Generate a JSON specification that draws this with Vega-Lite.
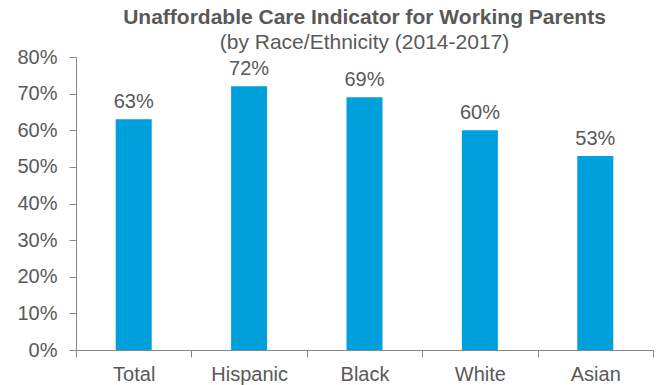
{
  "$schema": "https://vega.github.io/schema/vega-lite/v6.json",
  "width": 577,
  "height": 293,
  "autosize": "none",
  "padding": {"left": 76, "top": 57, "right": 4, "bottom": 35},
  "background": "white",
  "title": {
    "text": "Unaffordable Care Indicator for Working Parents",
    "subtitle": "(by Race/Ethnicity (2014-2017)",
    "anchor": "middle",
    "frame": "group",
    "font": "Liberation Sans",
    "fontSize": 21,
    "fontWeight": "bold",
    "color": "#595959",
    "subtitleFont": "Liberation Sans",
    "subtitleFontSize": 21,
    "subtitleColor": "#595959",
    "subtitlePadding": 4,
    "offset": -6
  },
  "config": {
    "view": {"stroke": null},
    "axis": {
      "labelFont": "Liberation Sans",
      "labelFontSize": 20,
      "labelColor": "#595959",
      "domainColor": "#888888",
      "tickColor": "#888888",
      "domainWidth": 1,
      "tickWidth": 1,
      "tickSize": 7,
      "grid": false,
      "title": null
    }
  },
  "data": {
    "values": [
      {"group": "Total", "value": 0.63},
      {"group": "Hispanic", "value": 0.72},
      {"group": "Black", "value": 0.69},
      {"group": "White", "value": 0.60},
      {"group": "Asian", "value": 0.53}
    ]
  },
  "encoding": {
    "x": {
      "field": "group",
      "type": "nominal",
      "sort": null,
      "scale": {"paddingInner": 0, "paddingOuter": 0},
      "axis": {"labelAngle": 0, "tickBand": "extent", "labelPadding": 7}
    },
    "y": {
      "field": "value",
      "type": "quantitative",
      "scale": {"domain": [0, 0.8], "nice": false},
      "axis": {"values": [0, 0.1, 0.2, 0.3, 0.4, 0.5, 0.6, 0.7, 0.8], "format": ".0%", "labelPadding": 12}
    }
  },
  "layer": [
    {
      "mark": {"type": "bar", "color": "#00a0dc", "width": {"band": 0.312}}
    },
    {
      "mark": {"type": "text", "baseline": "alphabetic", "dy": -11, "font": "Liberation Sans", "fontSize": 20, "color": "#595959"},
      "encoding": {"text": {"field": "value", "format": ".0%"}}
    }
  ]
}
